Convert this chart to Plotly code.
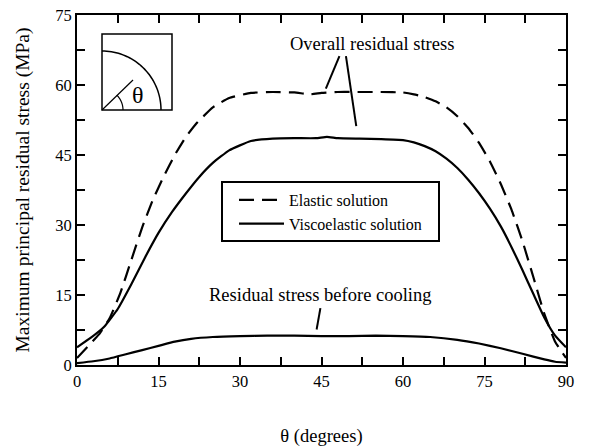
import numpy as np
import plotly.graph_objects as go

# ---------------- data ----------------
theta_elastic = [0, 2, 4, 6, 8, 10, 12, 14, 16, 18, 20, 22, 25, 28, 32, 36, 40, 43, 45,
                 48, 52, 56, 60, 62, 64, 66, 68, 70, 72, 74, 76, 78, 80, 82, 84, 86, 88, 90]
elastic = [1.5, 4.0, 6.5, 10.0, 15.5, 22.5, 29.5, 35.5, 40.5, 45.0, 48.8, 51.8, 55.2, 57.2,
           58.3, 58.5, 58.4, 58.0, 58.3, 58.5, 58.5, 58.5, 58.4, 58.0, 57.4, 56.5, 55.2,
           53.3, 50.8, 47.6, 43.6, 38.8, 33.2, 26.5, 18.8, 11.0, 5.0, 1.5]

theta_visco = [0, 2.5, 5, 7.5, 10, 12.5, 15, 17.5, 20, 22.5, 25, 28, 32, 36, 40, 44, 46,
               48, 52, 56, 60, 62, 64, 66, 68, 70, 72, 74, 76, 78, 80, 82, 84, 86, 88, 90]
visco = [3.8, 5.8, 8.2, 12.0, 17.3, 23.0, 28.3, 32.8, 36.7, 40.3, 43.3, 46.0, 48.0, 48.5,
         48.6, 48.6, 48.9, 48.6, 48.5, 48.4, 48.2, 47.7, 46.9, 45.8, 44.2, 42.2, 39.7,
         36.8, 33.5, 29.7, 25.2, 20.3, 15.2, 10.2, 6.3, 3.8]

theta_before = [0, 3, 6, 9, 12, 15, 18, 21, 25, 30, 35, 40, 45, 50, 55, 60, 65, 70, 74,
                78, 82, 86, 88, 90]
before = [0.4, 0.8, 1.4, 2.3, 3.2, 4.1, 5.0, 5.6, 6.0, 6.2, 6.3, 6.3, 6.2, 6.2, 6.3, 6.2,
          6.0, 5.4, 4.6, 3.6, 2.4, 1.2, 0.7, 0.5]

series_names = ["Elastic solution", "Viscoelastic solution"]
x_tick_vals = [0, 15, 30, 45, 60, 75, 90]
y_tick_vals = [0, 15, 30, 45, 60, 75]

FONT = "Liberation Serif, Times New Roman, Times, serif"

# ---------------- layout geometry ----------------
W, H = 605, 447
L, R, T, B = 77, 39, 15, 82
PW, PH = W - L - R, H - T - B


def px(xp, yp):
    """pixel -> paper coordinates (for decorations only)"""
    return (xp - L) / PW, (H - B - yp) / PH


LINE = dict(color="black", width=2.2, shape="spline", smoothing=0.4)

fig = go.Figure()
fig.add_trace(go.Scatter(x=theta_elastic, y=elastic, mode="lines", name=series_names[0],
                         line=dict(LINE, dash="15px,8px")))
fig.add_trace(go.Scatter(x=theta_visco, y=visco, mode="lines", name=series_names[1],
                         line=LINE))
fig.add_trace(go.Scatter(x=theta_before, y=before, mode="lines", showlegend=False,
                         line=LINE))

axis_common = dict(showline=True, linecolor="black", linewidth=2, mirror="ticks",
                   ticks="inside", ticklen=8, tickwidth=1.5, tickcolor="black",
                   showgrid=False, zeroline=False,
                   tickfont=dict(family=FONT, size=16.5, color="black"),
                   minor=dict(ticks="inside", ticklen=8, tickwidth=1.5, tickcolor="black",
                              dtick=7.5, showgrid=False))

fig.update_xaxes(range=[0, 90], tickvals=x_tick_vals, **axis_common,
                 title=dict(text="θ (degrees)", font=dict(family=FONT, size=18.5, color="black"),
                            standoff=40))
fig.update_yaxes(range=[0, 75], tickvals=y_tick_vals, **axis_common,
                 title=dict(text="Maximum principal residual stress (MPa)",
                            font=dict(family=FONT, size=19.5, color="black"), standoff=20))

# ---------------- inset (decoration) ----------------
shapes = []
bx0, by0 = px(102, 110)
bx1, by1 = px(172, 34)
shapes.append(dict(type="rect", xref="paper", yref="paper", x0=bx0, y0=by0, x1=bx1, y1=by1,
                   line=dict(color="black", width=1.5)))


def arc_path(cx, cy, r, a0, a1, n=40):
    pts = []
    for a in np.linspace(np.radians(a0), np.radians(a1), n):
        pts.append(px(cx + r * np.cos(a), cy - r * np.sin(a)))
    return "M " + " L ".join(f"{x:.5f},{y:.5f}" for x, y in pts)


shapes.append(dict(type="path", xref="paper", yref="paper", path=arc_path(102, 110, 59, 0, 90),
                   line=dict(color="black", width=1.5)))
shapes.append(dict(type="path", xref="paper", yref="paper", path=arc_path(102, 110, 21, 0, 45),
                   line=dict(color="black", width=1.2)))
lx0, ly0 = px(102, 110)
lx1, ly1 = px(133, 80)
shapes.append(dict(type="line", xref="paper", yref="paper", x0=lx0, y0=ly0, x1=lx1, y1=ly1,
                   line=dict(color="black", width=1.2)))

# legend frame
gx0, gy0 = px(222, 241)
gx1, gy1 = px(439, 182)
shapes.append(dict(type="rect", xref="paper", yref="paper", x0=gx0, y0=gy0, x1=gx1, y1=gy1,
                   line=dict(color="black", width=2), layer="below"))

# pointer lines for the annotations
shapes.append(dict(type="line", xref="x", yref="y", x0=48.3, y0=66.2, x1=45.8, y1=59.2,
                   line=dict(color="black", width=2)))
shapes.append(dict(type="line", xref="x", yref="y", x0=49.5, y0=66.2, x1=51.4, y1=51.2,
                   line=dict(color="black", width=2)))
shapes.append(dict(type="line", xref="x", yref="y", x0=44.8, y0=12.2, x1=44.1, y1=7.6,
                   line=dict(color="black", width=2)))
fig.update_layout(shapes=shapes)

tx, ty = px(138, 95)
annotations = [
    dict(text="θ", xref="paper", yref="paper", x=tx, y=ty, xanchor="center", yanchor="middle",
         showarrow=False, font=dict(family=FONT, size=24, color="black")),
    dict(text="Overall residual stress", xref="x", yref="y", x=54.3, y=68.8, showarrow=False,
         font=dict(family=FONT, size=18.5, color="black")),
    dict(text="Residual stress before cooling", xref="x", yref="y", x=44.7, y=14.9,
         showarrow=False, font=dict(family=FONT, size=18.5, color="black")),
]
fig.update_layout(annotations=annotations)

fig.update_layout(
    width=W, height=H,
    margin=dict(l=L, r=R, t=T, b=B, autoexpand=False),
    paper_bgcolor="white", plot_bgcolor="white",
    showlegend=True,
    legend=dict(x=(234 - L) / PW, y=(H - B - 183) / PH, xanchor="left", yanchor="top",
                borderwidth=0, bgcolor="rgba(0,0,0,0)",
                font=dict(family=FONT, size=16, color="black"),
                itemwidth=45, tracegroupgap=0),
)

fig.write_html("out.html")
